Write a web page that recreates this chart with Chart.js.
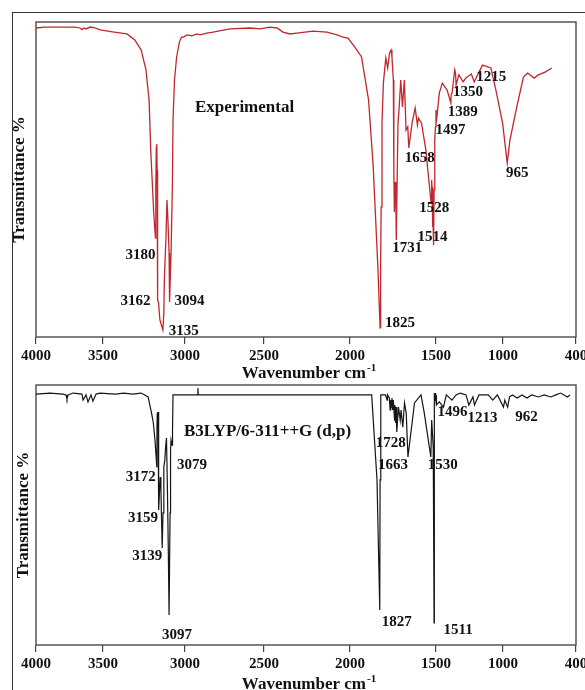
<!DOCTYPE html>
<html>
<head>
<meta charset="utf-8">
<title>IR spectra: experimental and B3LYP/6-311++G (d,p)</title>
<script src="https://cdn.jsdelivr.net/npm/chart.js@4.4.1/dist/chart.umd.min.js"></script>
<style>
  html, body { margin: 0; padding: 0; background: #fff; overflow: hidden; }
  #sheet { position: relative; width: 585px; height: 690px; overflow: hidden; }
  #border { position: absolute; left: 12px; top: 12px; width: 620px; height: 720px;
            border-left: 1px solid #333; border-top: 1px solid #333; }
  canvas { position: absolute; left: 0; }
  #ftir { top: 0; }
  #dft { top: 380px; }
</style>
</head>
<body>
<div id="sheet">
  <div id="border"></div>
  <canvas id="ftir" width="585" height="380"></canvas>
  <canvas id="dft" width="585" height="310"></canvas>
</div>
<script>
// ---- data -------------------------------------------------------------
const wavenumberTicks = [4000, 3500, 3000, 2500, 2000, 1500, 1000, 400];

// Experimental FT-IR trace (wavenumber cm-1, transmittance %)
const expWavenumber = [4000, 3933, 3821, 3709, 3672, 3657, 3642, 3627, 3597, 3560, 3522, 3432, 3354, 3306, 3267, 3238, 3219, 3209, 3190, 3180,
  3178, 3175, 3172, 3170, 3169, 3165, 3162, 3153, 3135, 3129, 3126, 3116, 3110, 3104, 3097, 3094, 3085, 3077, 3073, 3064,
  3051, 3034, 3021, 3009, 2987, 2956, 2924, 2905, 2861, 2823, 2715, 2589, 2525, 2465, 2424, 2390, 2349, 2308, 2215, 2134,
  2076, 2041, 2012, 1973, 1933, 1892, 1865, 1838, 1825, 1822, 1819, 1814, 1806, 1792, 1781, 1770, 1761, 1756, 1748, 1745,
  1742, 1737, 1734, 1731, 1721, 1715, 1705, 1695, 1684, 1674, 1664, 1658, 1639, 1621, 1608, 1602, 1584, 1559, 1540, 1528,
  1525, 1523, 1520, 1518, 1516, 1514, 1511, 1507, 1503, 1500, 1497, 1475, 1453, 1417, 1389, 1387, 1379, 1369, 1360, 1354,
  1350, 1329, 1298, 1277, 1236, 1215, 1153, 1090, 1053, 1003, 965, 943, 887, 832, 798, 743, 710, 654, 599];
const expTransmittance = [98.1, 98.4, 98.4, 98.4, 98.1, 97.6, 98.1, 97.8, 98.4, 98.1, 97.5, 96.8, 96.2, 94.3, 91.1, 84.8, 75.2, 59.4, 38.7, 31.4,
  47.6, 60.3, 61.3, 53.0, 37.1, 11.7, 11.1, 5.4, 2.2, 7.6, 18.1, 31.7, 43.5, 37.1, 26.7, 11.1, 26.7, 47.6, 68.9, 81.6,
  88.9, 93.7, 95.2, 95.2, 95.9, 95.6, 96.2, 95.9, 96.5, 96.8, 97.8, 98.1, 97.8, 98.4, 98.1, 96.8, 96.2, 96.5, 97.1, 96.8,
  95.9, 95.2, 94.9, 92.1, 88.9, 75.2, 54.0, 22.2, 2.9, 22.2, 41.3, 67.9, 80.6, 88.6, 85.4, 90.2, 91.1, 88.9, 81.6, 52.1,
  39.7, 49.2, 47.6, 30.8, 67.9, 72.1, 81.6, 73.0, 81.6, 65.7, 66.7, 60.0, 67.9, 72.7, 67.3, 69.5, 67.9, 59.4, 48.9, 42.5,
  49.8, 47.6, 34.9, 42.5, 34.0, 29.2, 46.7, 62.5, 66.7, 72.1, 68.3, 77.5, 80.6, 78.4, 74.3, 76.8, 77.8, 81.6, 84.8, 83.8,
  80.0, 83.2, 81.0, 82.2, 83.5, 81.0, 86.3, 85.4, 78.4, 67.9, 55.2, 62.5, 73.0, 82.5, 83.8, 82.2, 83.2, 84.1, 85.4];
const expPeaks = [3180, 3162, 3135, 3094, 1825, 1731, 1658, 1528, 1514, 1497, 1389, 1350, 1215, 965];

// Computed B3LYP/6-311++G (d,p) trace (wavenumber cm-1, transmittance %)
const calcWavenumber = [4000, 3896, 3799, 3776, 3769, 3761, 3724, 3657, 3649, 3627, 3612, 3590, 3575, 3552, 3522, 3426, 3373, 3320, 3267, 3225,
  3204, 3193, 3183, 3172, 3171, 3169, 3168, 3166, 3165, 3164, 3162, 3161, 3159, 3155, 3151, 3147, 3143, 3139, 3134, 3129,
  3123, 3118, 3113, 3108, 3102, 3097, 3091, 3088, 3085, 3079, 3076, 3073, 2920, 2918, 2916, 1890, 1874, 1843, 1827, 1825,
  1821, 1794, 1784, 1782, 1771, 1767, 1763, 1761, 1756, 1752, 1748, 1741, 1739, 1735, 1732, 1728, 1718, 1708, 1703, 1693,
  1683, 1673, 1663, 1625, 1587, 1568, 1530, 1525, 1516, 1511, 1510.3, 1509.7, 1508.4, 1504.4, 1503, 1501, 1498.6, 1498, 1496, 1475,
  1444, 1423, 1381, 1350, 1318, 1276, 1255, 1224, 1213, 1179, 1110, 1076, 1042, 996, 985, 962, 946, 922, 883, 843,
  804, 764, 709, 662, 607, 566, 527, 471, 448];
const calcTransmittance = [96.5, 96.9, 96.5, 96.2, 94.6, 96.2, 96.9, 96.5, 94.2, 96.2, 93.5, 96.2, 93.8, 96.5, 96.9, 96.5, 96.9, 96.5, 96.9, 95.4,
  89.2, 85.4, 78.8, 68.5, 83.8, 89.2, 83.8, 89.6, 85.4, 89.6, 82.7, 63.5, 51.9, 59.6, 64.6, 60.8, 48.1, 37.3, 50.8, 68.5,
  71.2, 76.2, 79.6, 63.5, 37.7, 11.5, 50.8, 75.0, 78.8, 76.9, 82.7, 96.2, 96.2, 98.8, 96.2, 96.2, 96.2, 63.5, 13.5, 63.5,
  96.2, 96.2, 94.2, 96.2, 95.0, 90.4, 94.2, 91.5, 95.0, 90.4, 94.2, 86.5, 92.3, 85.4, 91.5, 81.9, 91.5, 86.5, 90.4, 83.8,
  93.1, 89.2, 72.3, 93.1, 96.2, 89.2, 72.3, 86.5, 76.2, 8.5, 50.8, 93.1, 96.9, 94.2, 96.9, 95.4, 93.1, 96.2, 92.3, 93.5,
  91.5, 96.2, 94.2, 96.2, 96.9, 96.2, 92.3, 95.4, 92.3, 96.2, 96.2, 94.2, 96.2, 91.5, 94.2, 91.5, 95.4, 96.2, 95.0, 96.2,
  95.0, 96.2, 95.4, 96.2, 95.4, 96.2, 96.9, 95.4, 96.2];
const calcPeaks = [3172, 3159, 3139, 3097, 3079, 1827, 1728, 1663, 1530, 1511, 1496, 1213, 962];

// ---- presentation -----------------------------------------------------
const SERIF = '"Liberation Serif", "Times New Roman", serif';

// The printed wavenumber axis is uneven: share of its length (from the 4000 end) at each tick.
const tickShare = [0, 0.1241, 0.2759, 0.4222, 0.5815, 0.7407, 0.8648, 1];

class UnevenWavenumberScale extends Chart.LinearScale {
  shareOf(v) {
    const t = wavenumberTicks, s = tickShare, n = t.length;
    let i = 0;
    while (i < n - 2 && v < t[i + 1]) i++;
    return s[i] + (t[i] - v) / (t[i] - t[i + 1]) * (s[i + 1] - s[i]);
  }
  valueOfShare(share) {
    const t = wavenumberTicks, s = tickShare, n = t.length;
    let i = 0;
    while (i < n - 2 && share > s[i + 1]) i++;
    return t[i] - (share - s[i]) / (s[i + 1] - s[i]) * (t[i] - t[i + 1]);
  }
  getPixelForValue(value) {
    if (value === null || isNaN(value)) return NaN;
    return this.getPixelForDecimal(1 - this.shareOf(value));
  }
  getValueForPixel(pixel) {
    return this.valueOfShare(1 - this.getDecimalForPixel(pixel));
  }
}
UnevenWavenumberScale.id = 'unevenWavenumber';
Chart.register(UnevenWavenumberScale);

// Frame, caption, peak labels and the x-axis title (with superscript)
function decorations(cfg) {
  return {
    id: 'spectrumDecor',
    beforeDatasetsDraw(chart) {
      const { ctx, chartArea: a } = chart;
      ctx.save();
      ctx.strokeStyle = '#4a4a4a';
      ctx.lineWidth = 1.4;
      ctx.strokeRect(a.left, a.top, a.right - a.left, a.bottom - a.top);
      ctx.restore();
    },
    afterDatasetsDraw(chart) {
      const { ctx, chartArea: a, scales: { x, y } } = chart;
      ctx.save();
      ctx.fillStyle = '#111';
      ctx.textBaseline = 'middle';

      ctx.font = `bold 17px ${SERIF}`;
      ctx.textAlign = 'left';
      ctx.fillText(cfg.caption, a.left + cfg.captionAt[0], a.top + cfg.captionAt[1]);

      ctx.font = `bold 15px ${SERIF}`;
      ctx.textAlign = 'center';
      cfg.peaks.forEach((p, k) => {
        const i = cfg.wn.indexOf(p);
        const [dx, dy] = cfg.peakOffsets[k];
        ctx.fillText(String(p), x.getPixelForValue(p) + dx, y.getPixelForValue(cfg.tr[i]) + dy);
      });

      // "Wavenumber cm-1" with a raised "-1"
      const main = 'Wavenumber cm', sup = '-1';
      ctx.textBaseline = 'alphabetic';
      ctx.textAlign = 'left';
      ctx.font = `bold 17px ${SERIF}`;
      const w1 = ctx.measureText(main).width;
      ctx.font = `bold 11px ${SERIF}`;
      const w2 = ctx.measureText(sup).width;
      const cx = (a.left + a.right) / 2 + 3;
      const base = a.bottom + cfg.titleBaseline;
      const x0 = cx - (w1 + w2 + 1) / 2;
      ctx.font = `bold 17px ${SERIF}`;
      ctx.fillText(main, x0, base);
      ctx.font = `bold 11px ${SERIF}`;
      ctx.fillText(sup, x0 + w1 + 1, base - 7);
      ctx.restore();
    }
  };
}

function spectrumChart(canvasId, wn, tr, cfg) {
  return new Chart(document.getElementById(canvasId), {
    type: 'line',
    data: {
      datasets: [{
        data: wn.map((x, i) => ({ x, y: tr[i] })),
        borderColor: cfg.color,
        borderWidth: cfg.lineWidth,
        pointRadius: 0,
        tension: 0,
        fill: false
      }]
    },
    options: {
      responsive: false,
      animation: false,
      devicePixelRatio: 1,
      events: [],
      layout: { padding: cfg.padding },
      plugins: { legend: { display: false }, tooltip: { enabled: false } },
      scales: {
        x: {
          type: 'unevenWavenumber',
          min: 400,
          max: 4000,
          reverse: true,
          bounds: 'data',
          afterBuildTicks: s => { s.ticks = wavenumberTicks.map(value => ({ value })); },
          afterFit: s => { s.height = cfg.xAxisHeight; s.paddingLeft = 0; s.paddingRight = 0; },
          ticks: {
            callback: v => String(v),
            autoSkip: false,
            maxRotation: 0,
            padding: 3,
            color: '#111',
            font: { family: SERIF, size: 15, weight: 'bold' }
          },
          grid: { drawOnChartArea: false, drawTicks: true, tickLength: 7, color: '#444', lineWidth: 1.2 },
          border: { display: false }
        },
        y: {
          min: 0,
          max: 100,
          afterFit: s => { s.width = 36; },
          ticks: { display: false },
          grid: { display: false },
          border: { display: false },
          title: {
            display: true,
            text: 'Transmittance %',
            color: '#111',
            font: { family: SERIF, size: 17, weight: 'bold' },
            padding: { top: cfg.yTitlePad, bottom: 0 }
          }
        }
      }
    },
    plugins: [decorations(Object.assign({ wn, tr }, cfg))]
  });
}

spectrumChart('ftir', expWavenumber, expTransmittance, {
  color: '#c3262c',
  lineWidth: 1.3,
  padding: { top: 22, right: 9, bottom: 0, left: 0 },
  xAxisHeight: 43,
  yTitlePad: 9,
  titleBaseline: 41,
  caption: 'Experimental',
  captionAt: [159, 86],
  peaks: expPeaks,
  peakOffsets: [[-15, 17], [-23, -1], [21, 1], [20, -1], [20, -5], [11, 8], [11, 10], [3, 5],
                [-1, -8], [14, 8], [12, 9], [12, 7], [17, -5], [10, 10]]
});

spectrumChart('dft', calcWavenumber, calcTransmittance, {
  color: '#151515',
  lineWidth: 1.2,
  padding: { top: 5, right: 9, bottom: 0, left: 0 },
  xAxisHeight: 45,
  yTitlePad: 13,
  titleBaseline: 44,
  caption: 'B3LYP/6-311++G (d,p)',
  captionAt: [148, 47],
  peaks: calcPeaks,
  peakOffsets: [[-16, 10], [-16, 8], [-15, 8], [8, 20], [20, 20], [17, 12], [-6, 11], [-15, 8],
                [12, 8], [24, 7], [16, 7], [8, 13], [19, 10]]
});
</script>
</body>
</html>
